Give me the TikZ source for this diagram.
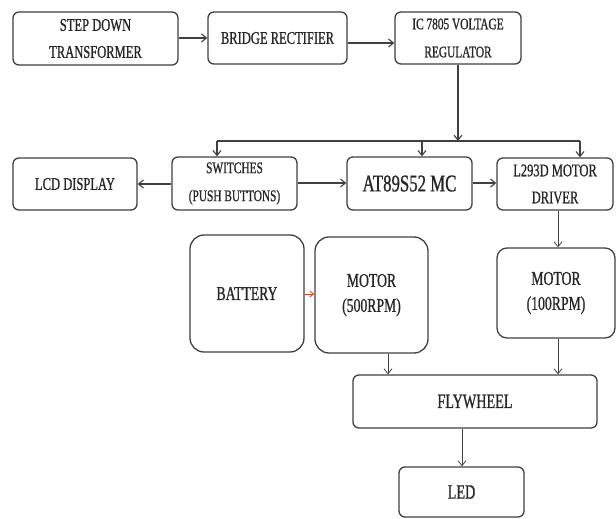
\documentclass[tikz,border=0pt]{standalone}
\usepackage{fontspec}
\setmainfont[FakeStretch=0.7,FakeBold=0.8]{Liberation Serif}
\usetikzlibrary{arrows.meta}
\tikzset{
  box/.style={draw=black!75, line width=1.3pt, rounded corners=6pt, fill=white,
    align=center, inner sep=0pt, text=black!85},
  bigbox/.style={box, rounded corners=14pt},
  arr/.style={draw=black!75, line width=1.1pt, -{Straight Barb[length=5pt,width=8pt]}},
  thinarr/.style={draw=black!75, line width=0.8pt, -{Straight Barb[length=5pt,width=8pt]}},
  fa/.style={font=\fontsize{17.9}{27}\selectfont},
  fb/.style={font=\fontsize{16.2}{28}\selectfont},
  fc/.style={font=\fontsize{24}{26}\selectfont},
  fd/.style={font=\fontsize{19.6}{25}\selectfont},
  fe/.style={font=\fontsize{20.3}{25}\selectfont},
}
\begin{document}
\begin{tikzpicture}[x=1pt,y=-1pt]
\useasboundingbox (0,0) rectangle (616,519);
% top row
\node[box,fa,minimum width=165pt,minimum height=53pt] (sdt) at (95.5,38.5) {STEP DOWN\\TRANSFORMER};
\node[box,fa,minimum width=139pt,minimum height=52pt] (br) at (277.5,38) {BRIDGE RECTIFIER};
\node[box,fb,minimum width=126pt,minimum height=52pt] (ic) at (458,38) {IC 7805 VOLTAGE\\REGULATOR};
% second row
\node[box,fa,minimum width=124pt,minimum height=52pt] (lcd) at (75,184) {LCD DISPLAY};
\node[box,fb,minimum width=125pt,minimum height=53pt] (sw) at (234.5,183.5) {SWITCHES\\(PUSH BUTTONS)};
\node[box,fc,minimum width=125pt,minimum height=53pt] (at) at (409.5,183.5) {AT89S52 MC};
\node[box,fa,minimum width=116pt,minimum height=52pt] (l293) at (555,184) {L293D MOTOR\\DRIVER};
% third row
\node[bigbox,fd,minimum width=114pt,minimum height=117pt] (bat) at (247,293.5) {BATTERY};
\node[bigbox,fd,minimum width=113pt,minimum height=116pt] (m500) at (371.5,295) {MOTOR\\(500RPM)};
\node[box,rounded corners=10pt,fd,minimum width=118pt,minimum height=90pt] (m100) at (556,293) {MOTOR\\(100RPM)};
% bottom
\node[box,fe,minimum width=244pt,minimum height=53pt] (fly) at (475,401.5) {FLYWHEEL};
\node[box,fe,minimum width=125pt,minimum height=50pt] (led) at (461.5,492) {LED};
% connectors
\draw[arr] (sdt.east |- 0,38) -- (br.west |- 0,38);
\draw[arr] (br.east |- 0,43) -- (ic.west |- 0,43);
\coordinate (bus) at (458,141);
\coordinate (busL) at (217,141);
\coordinate (busA) at (422,141);
\coordinate (busR) at (580,141);
\draw[arr] (ic) -- (bus);
\draw[draw=black!75, line width=1.1pt] (busL) -- (busR);
\draw[arr] (busL) -- (sw.north -| busL);
\draw[arr] (busA) -- (at.north -| busA);
\draw[arr] (busR) -- (l293.north -| busR);
\draw[arr] (sw.west |- 0,184) -- (lcd.east |- 0,184);
\draw[arr] (sw.east |- 0,183) -- (at.west |- 0,183);
\draw[arr] (at.east |- 0,183) -- (l293.west |- 0,183);
\draw[thinarr] (l293.south -| 558,0) -- (m100.north -| 558,0);
\draw[draw=red!60!orange, line width=0.8pt, -{Straight Barb[length=4pt,width=6pt]}] (bat.east |- 0,294) -- (m500.west |- 0,294);
\draw[thinarr] (m500.south -| 388,0) -- (fly.north -| 388,0);
\draw[thinarr] (m100.south -| 558,0) -- (fly.north -| 558,0);
\draw[thinarr] (fly.south -| 462,0) -- (led.north -| 462,0);
\end{tikzpicture}
\end{document}
